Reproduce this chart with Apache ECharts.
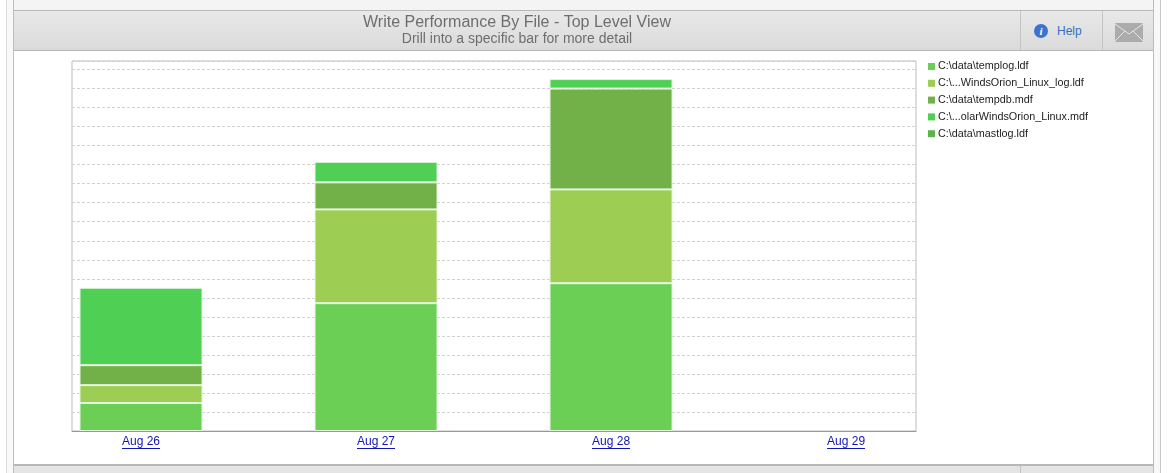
<!DOCTYPE html>
<html>
<head>
<meta charset="utf-8">
<title>Write Performance By File</title>
<script src="https://cdn.jsdelivr.net/npm/echarts@6/dist/echarts.min.js"></script>
<style>
html, body { margin: 0; padding: 0; width: 1168px; height: 473px; overflow: hidden; background: #fff; font-family: "Liberation Sans", Arial, sans-serif; }
.box { position: absolute; box-sizing: border-box; }
#outer { left: 6px; top: 0; width: 1155px; height: 473px; border-left: 1px solid #dcdcdc; border-right: 1px solid #c8c8c8; background: #f8f8f8; }
#panel { left: 13px; top: 0; width: 1141px; height: 473px; border-left: 1px solid #bdbdbd; border-right: 1px solid #bdbdbd; background: #fff; }
#topband { left: 14px; top: 0; width: 1139px; height: 11px; background: #f4f4f4; border-bottom: 1px solid #b8b8b8; }
#header { left: 14px; top: 11px; width: 1139px; height: 40px; background: linear-gradient(#e9e9e9, #dadada); border-bottom: 1px solid #b8b8b8; }
#footer { left: 14px; top: 464px; width: 1139px; height: 9px; background: #e4e4e4; border-top: 2px solid #b8b8b8; }
.div1 { left: 1020px; width: 1px; background: #c4c4c4; }
.div2 { left: 1102px; width: 1px; background: #c4c4c4; }
#info { left: 1034px; top: 24px; width: 14px; height: 14px; border-radius: 7px; background: #3a74d0; color: #fff; font: italic bold 11px/14px "Liberation Serif", serif; text-align: center; }
#help { left: 1057px; top: 24px; font-size: 12px; line-height: 14px; color: #3a6cc0; }
#main { position: absolute; left: 0; top: 0; width: 1168px; height: 473px; }
</style>
</head>
<body>
<div class="box" id="outer"></div>
<div class="box" id="panel"></div>
<div class="box" id="topband"></div>
<div class="box" id="header"></div>
<div class="box" id="footer"></div>
<div class="box div1" style="top:11px;height:39px"></div>
<div class="box div2" style="top:11px;height:39px"></div>
<div class="box div1" style="top:466px;height:7px"></div>
<div class="box" id="info">i</div>
<div class="box" id="help">Help</div>
<svg class="box" style="left:1115px;top:23px" width="28" height="19">
    <rect x="0" y="0" width="28" height="19" rx="1" fill="#acacac"/>
    <path d="M0 1 L14 11 L28 1 M0 18 L10 8 M28 18 L18 8" stroke="#e6e6e6" stroke-width="1" fill="none"/>
</svg>
<div id="main"></div>

<script>
const days = ['Aug 26', 'Aug 27', 'Aug 28', 'Aug 29'];
const dayStamps = ['2014-08-26', '2014-08-27', '2014-08-28', '2014-08-29'].map(d => Date.parse(d));
const DAY = 86400000;

const fileNames = [
    'C:\\data\\templog.ldf',
    'C:\\...WindsOrion_Linux_log.ldf',
    'C:\\data\\tempdb.mdf',
    'C:\\...olarWindsOrion_Linux.mdf',
    'C:\\data\\mastlog.ldf'
];
const fileColors = ['#6bcf55', '#9dcd52', '#72b048', '#50cf55', '#5cb548'];

// no value on Aug 29, mastlog never shows up in a bar
const templog = [14.7, 67.2, 77.7, null];
const orionLog = [9.4, 49.3, 49.3, null];
const tempdb = [10.5, 14.2, 53, null];
const orionData = [40.7, 10.8, 5, null];
const mastlog = [null, null, null, null];
const fileValues = [templog, orionLog, tempdb, orionData, mastlog];

var myChart = echarts.init(document.getElementById('main'));

myChart.setOption({
    animation: false,
    useUTC: true,
    title: {
        text: 'Write Performance By File - Top Level View',
        subtext: 'Drill into a specific bar for more detail',
        left: 512,
        top: 9,
        textAlign: 'center',
        itemGap: 1,
        textStyle: { fontFamily: 'Liberation Sans', fontSize: 16, fontWeight: 'normal', color: '#6e6e6e', lineHeight: 17 },
        subtextStyle: { fontFamily: 'Liberation Sans', fontSize: 14, color: '#6e6e6e', lineHeight: 15 }
    },
    legend: {
        orient: 'vertical',
        left: 924,
        top: 60,
        icon: 'rect',
        itemWidth: 7,
        itemHeight: 7,
        itemGap: 3.8,
        padding: [0, 0, 0, 4],
        data: fileNames,
        itemStyle: { borderWidth: 0 },
        textStyle: { fontFamily: 'Liberation Sans', fontSize: 10.8, color: '#222', padding: [0, 0, 0, -2], lineHeight: 13 }
    },
    grid: {
        left: 72,
        right: 252,
        top: 61,
        bottom: 42,
        show: true,
        borderColor: '#bdbdbd',
        borderWidth: 1
    },
    xAxis: {
        type: 'time',
        // echarts widens this range by half a bar on each side
        min: dayStamps[0] - 0.032 * DAY,
        max: dayStamps[3] + 0.036 * DAY,
        minInterval: DAY,
        maxInterval: DAY,
        splitLine: { show: false },
        axisTick: { show: false },
        axisLine: { show: true, onZero: false, lineStyle: { color: '#999', width: 1 } },
        axisLabel: {
            formatter: (value) => days[dayStamps.indexOf(value)] || '',
            margin: 5,
            hideOverlap: false,
            fontFamily: 'Liberation Sans',
            fontSize: 12,
            color: '#1414b4'
        }
    },
    yAxis: {
        type: 'value',
        min: 0,
        max: 194.5,
        interval: 10,
        axisLine: { show: false },
        axisTick: { show: false },
        axisLabel: { show: false },
        splitLine: { lineStyle: { type: [3, 2], color: '#d2d2d2', width: 1 } }
    },
    series: fileNames.map((name, i) => ({
        name: name,
        type: 'bar',
        stack: 'files',
        barWidth: 123,
        data: dayStamps.map((t, d) => [t, fileValues[i][d]]),
        itemStyle: { color: fileColors[i], borderColor: '#e4f5df', borderWidth: 1 }
    }))
});

// link style underline under the date labels, echarts has no text decoration
myChart.setOption({
    graphic: dayStamps.map((t) => {
        const x = myChart.convertToPixel({ xAxisIndex: 0 }, t);
        return {
            type: 'line',
            silent: true,
            shape: { x1: x - 19, y1: 448.5, x2: x + 19, y2: 448.5 },
            style: { stroke: '#1414b4', lineWidth: 1 }
        };
    })
});
</script>
</body>
</html>
